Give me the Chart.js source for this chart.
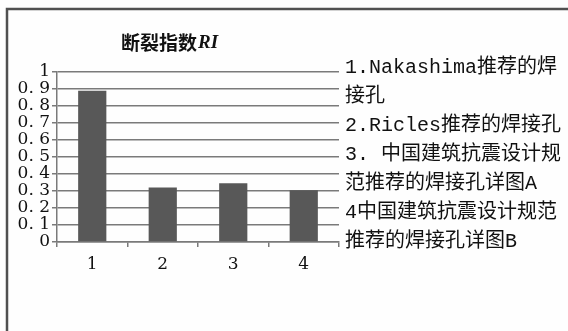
<!DOCTYPE html>
<html>
<head>
<meta charset="utf-8">
<script src="https://cdn.jsdelivr.net/npm/chart.js@4.4.1/dist/chart.umd.min.js"></script>
<style>
  html, body { margin: 0; padding: 0; background: #fff; }
  #wrap { width: 568px; height: 331px; }
</style>
</head>
<body>
<div id="wrap"><canvas id="ri-chart" width="568" height="331"></canvas></div>
<script>
const categories = ['1', '2', '3', '4'];
const riValues = [0.89, 0.32, 0.345, 0.305];
const yTickValues = [0, 0.1, 0.2, 0.3, 0.4, 0.5, 0.6, 0.7, 0.8, 0.9, 1];
const yTickLabels = ['0', '0. 1', '0. 2', '0. 3', '0. 4', '0. 5', '0. 6', '0. 7', '0. 8', '0. 9', '1'];
const titleMain = '断裂指数';
const titleItalic = 'RI';
const legendLines = [
  '1.Nakashima推荐的焊',
  '接孔',
  '2.Ricles推荐的焊接孔',
  '3. 中国建筑抗震设计规',
  '范推荐的焊接孔详图A',
  '4中国建筑抗震设计规范',
  '推荐的焊接孔详图B'
];

const lineGray = '#7a7a7a';
const tickFont = { family: '"DejaVu Serif", serif', size: 17, lineHeight: 1 };

// white page + the dark frame on the left and top edges
const framePlugin = {
  id: 'frame',
  beforeDraw: (chart) => {
    const { ctx, width, height } = chart;
    ctx.save();
    ctx.fillStyle = '#fefefe';
    ctx.fillRect(0, 0, width, height);
    ctx.strokeStyle = '#505050';
    ctx.lineWidth = 2.5;
    ctx.beginPath();
    ctx.moveTo(7, height);
    ctx.lineTo(7, 9);
    ctx.lineTo(width, 9);
    ctx.stroke();
    ctx.restore();
  }
};

// title with the italic RI part
const titlePlugin = {
  id: 'riTitle',
  afterDraw: (chart) => {
    const { ctx, chartArea } = chart;
    const x = chartArea.left + 64;
    const y = chartArea.top - 29;
    ctx.save();
    ctx.fillStyle = '#111';
    ctx.textBaseline = 'middle';
    ctx.font = 'bold 19px "Noto Sans CJK SC"';
    ctx.fillText(titleMain, x, y);
    const w = ctx.measureText(titleMain).width;
    ctx.font = 'italic bold 19px "Liberation Serif"';
    ctx.fillText(titleItalic, x + w + 1, y);
    ctx.restore();
  }
};

// the wrapped legend text on the right
const legendTextPlugin = {
  id: 'legendText',
  afterDraw: (chart) => {
    const { ctx, chartArea } = chart;
    const x = chartArea.right + 6;
    const y0 = chartArea.top - 4;
    ctx.save();
    ctx.fillStyle = '#111';
    ctx.textBaseline = 'middle';
    ctx.font = '20px "Liberation Mono", "Noto Sans CJK SC"';
    legendLines.forEach((line, i) => {
      ctx.fillText(line, x, y0 + i * 29);
    });
    ctx.restore();
  }
};

const ctx = document.getElementById('ri-chart').getContext('2d');

new Chart(ctx, {
  type: 'bar',
  data: {
    labels: categories,
    datasets: [{
      label: titleMain + titleItalic,
      data: riValues,
      backgroundColor: '#585858',
      borderWidth: 0,
      barPercentage: 0.4,
      categoryPercentage: 1
    }]
  },
  options: {
    responsive: false,
    animation: false,
    layout: { padding: { top: 72, left: 18, right: 229, bottom: 49 } },
    plugins: {
      legend: { display: false },
      title: { display: false },
      tooltip: { enabled: false }
    },
    scales: {
      x: {
        afterFit: (scale) => { scale.height = 40; },
        grid: { display: true, drawOnChartArea: false, offset: true, tickLength: 5, color: lineGray, lineWidth: 1.5 },
        border: { color: lineGray, width: 1.5 },
        ticks: { padding: 9, color: '#111', font: tickFont }
      },
      y: {
        min: 0,
        max: 1,
        afterBuildTicks: (scale) => { scale.ticks = yTickValues.map(v => ({ value: v })); },
        afterFit: (scale) => { scale.width = 39; },
        grid: { color: lineGray, lineWidth: 1.5, tickLength: 5 },
        border: { color: lineGray, width: 1.5 },
        ticks: {
          autoSkip: false,
          padding: 2,
          color: '#111',
          font: tickFont,
          callback: (v, i) => yTickLabels[i]
        }
      }
    }
  },
  plugins: [framePlugin, titlePlugin, legendTextPlugin]
});
</script>
</body>
</html>
